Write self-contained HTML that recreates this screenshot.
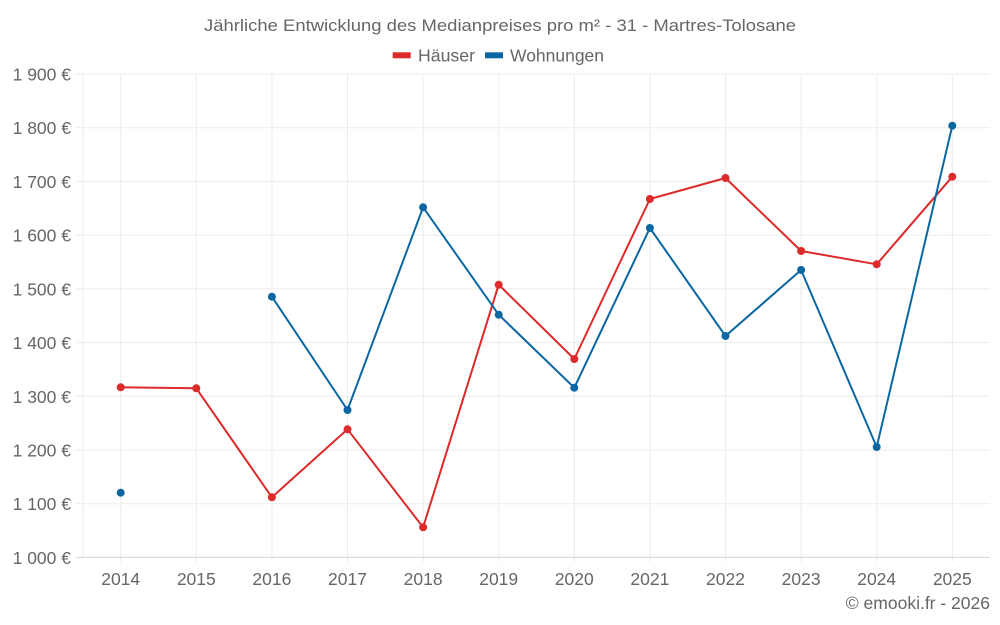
<!DOCTYPE html>
<html><head><meta charset="utf-8"><style>
html,body{margin:0;padding:0;background:#fff;}
svg{display:block;}
text{font-family:"Liberation Sans",sans-serif;fill:#666;}
</style></head><body>
<svg width="1000" height="625" viewBox="0 0 1000 625" xmlns="http://www.w3.org/2000/svg">
<rect width="1000" height="625" fill="#fff"/>
<text x="500" y="31" font-size="17" text-anchor="middle" textLength="592" lengthAdjust="spacingAndGlyphs">Jährliche Entwicklung des Medianpreises pro m² - 31 - Martres-Tolosane</text>
<rect x="392.7" y="52.3" width="18" height="6" fill="#dd2a2a"/>
<text x="418" y="61.5" font-size="17.5" textLength="57" lengthAdjust="spacingAndGlyphs">Häuser</text>
<rect x="485" y="52.3" width="18" height="6" fill="#0a67a3"/>
<text x="510" y="61.5" font-size="17.5" textLength="94" lengthAdjust="spacingAndGlyphs">Wohnungen</text>
<g stroke="#ebebeb" stroke-width="1">
<line x1="76" y1="74" x2="990" y2="74"/>
<line x1="76" y1="127.7" x2="990" y2="127.7"/>
<line x1="76" y1="181.4" x2="990" y2="181.4"/>
<line x1="76" y1="235.1" x2="990" y2="235.1"/>
<line x1="76" y1="288.9" x2="990" y2="288.9"/>
<line x1="76" y1="342.6" x2="990" y2="342.6"/>
<line x1="76" y1="396.3" x2="990" y2="396.3"/>
<line x1="76" y1="450" x2="990" y2="450"/>
<line x1="76" y1="503.7" x2="990" y2="503.7"/>
<line x1="83" y1="74" x2="83" y2="557"/>
<line x1="120.7" y1="74" x2="120.7" y2="562"/>
<line x1="196.3" y1="74" x2="196.3" y2="562"/>
<line x1="271.9" y1="74" x2="271.9" y2="562"/>
<line x1="347.5" y1="74" x2="347.5" y2="562"/>
<line x1="423.1" y1="74" x2="423.1" y2="562"/>
<line x1="498.7" y1="74" x2="498.7" y2="562"/>
<line x1="574.3" y1="74" x2="574.3" y2="562"/>
<line x1="649.9" y1="74" x2="649.9" y2="562"/>
<line x1="725.5" y1="74" x2="725.5" y2="562"/>
<line x1="801.1" y1="74" x2="801.1" y2="562"/>
<line x1="876.7" y1="74" x2="876.7" y2="562"/>
<line x1="952.3" y1="74" x2="952.3" y2="562"/>
</g>
<line x1="76" y1="557.4" x2="990" y2="557.4" stroke="#d6d6d6" stroke-width="1"/>
<g font-size="17.5" text-anchor="end">
<text x="71" y="80.5">1 900 €</text>
<text x="71" y="134.2">1 800 €</text>
<text x="71" y="187.9">1 700 €</text>
<text x="71" y="241.6">1 600 €</text>
<text x="71" y="295.4">1 500 €</text>
<text x="71" y="349.1">1 400 €</text>
<text x="71" y="402.8">1 300 €</text>
<text x="71" y="456.5">1 200 €</text>
<text x="71" y="510.2">1 100 €</text>
<text x="71" y="563.9">1 000 €</text>
</g>
<g font-size="17.5" text-anchor="middle">
<text x="120.7" y="585">2014</text>
<text x="196.3" y="585">2015</text>
<text x="271.9" y="585">2016</text>
<text x="347.5" y="585">2017</text>
<text x="423.1" y="585">2018</text>
<text x="498.7" y="585">2019</text>
<text x="574.3" y="585">2020</text>
<text x="649.9" y="585">2021</text>
<text x="725.5" y="585">2022</text>
<text x="801.1" y="585">2023</text>
<text x="876.7" y="585">2024</text>
<text x="952.3" y="585">2025</text>
</g>
<text x="990" y="609" font-size="17.5" text-anchor="end">© emooki.fr - 2026</text>
<polyline fill="none" stroke="#dd2a2a" stroke-width="2" stroke-linejoin="round" points="120.7,387.3 196.3,388.3 271.9,497.3 347.5,429.3 423.1,527.3 498.7,284.7 574.3,359 649.9,199 725.5,178 801.1,251 876.7,264.3 952.3,176.7"/>
<g fill="#dd2a2a">
<circle cx="120.7" cy="387.3" r="4"/><circle cx="196.3" cy="388.3" r="4"/><circle cx="271.9" cy="497.3" r="4"/><circle cx="347.5" cy="429.3" r="4"/><circle cx="423.1" cy="527.3" r="4"/><circle cx="498.7" cy="284.7" r="4"/><circle cx="574.3" cy="359" r="4"/><circle cx="649.9" cy="199" r="4"/><circle cx="725.5" cy="178" r="4"/><circle cx="801.1" cy="251" r="4"/><circle cx="876.7" cy="264.3" r="4"/><circle cx="952.3" cy="176.7" r="4"/>
</g>
<polyline fill="none" stroke="#0a67a3" stroke-width="2" stroke-linejoin="round" points="271.9,296.7 347.5,410 423.1,207.3 498.7,314.7 574.3,387.7 649.9,228 725.5,336 801.1,270 876.7,447 952.3,125.7"/>
<g fill="#0a67a3">
<circle cx="120.7" cy="492.7" r="4"/><circle cx="271.9" cy="296.7" r="4"/><circle cx="347.5" cy="410" r="4"/><circle cx="423.1" cy="207.3" r="4"/><circle cx="498.7" cy="314.7" r="4"/><circle cx="574.3" cy="387.7" r="4"/><circle cx="649.9" cy="228" r="4"/><circle cx="725.5" cy="336" r="4"/><circle cx="801.1" cy="270" r="4"/><circle cx="876.7" cy="447" r="4"/><circle cx="952.3" cy="125.7" r="4"/>
</g>
</svg>
</body></html>
